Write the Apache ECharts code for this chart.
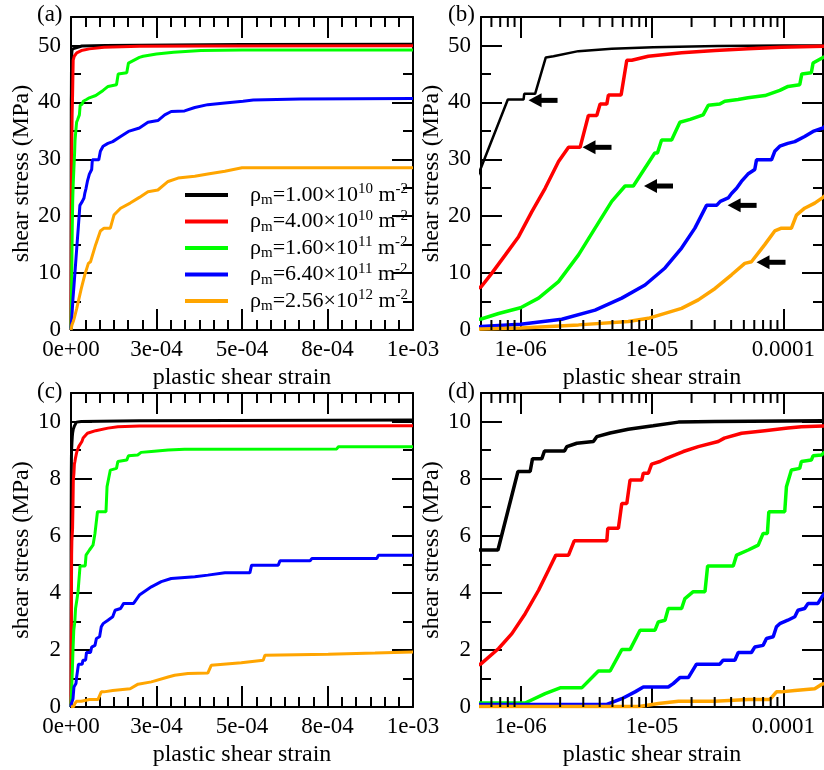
<!DOCTYPE html>
<html>
<head>
<meta charset="utf-8">
<script src="https://cdn.jsdelivr.net/npm/echarts@6/dist/echarts.min.js"></script>
<style>
  html, body { margin: 0; background: #fff; }
  #chart { width: 824px; height: 770px; }
</style>
</head>
<body>
<div id="chart"></div>
<script>
// density labels for the legend
const densityMant = ['1.00', '4.00', '1.60', '6.40', '2.56'];
const densityExp = ['10', '10', '11', '11', '12'];
const seriesNames = densityMant.map((m, i) => 'ρm=' + m + '×10^' + densityExp[i] + ' m^-2');
const seriesColors = ['#000000', '#ff0000', '#00ff00', '#0000ff', '#ffa500'];

// tick labels
const linXLabels = ['0e+00', '3e-04', '5e-04', '8e-04', '1e-03'];
const logXLabels = ['1e-06', '1e-05', '0.0001'];
const logMinorTicks = [6e-7, 7e-7, 8e-7, 9e-7, 2e-6, 3e-6, 4e-6, 5e-6, 6e-6, 7e-6, 8e-6, 9e-6,
  2e-5, 3e-5, 4e-5, 5e-5, 6e-5, 7e-5, 8e-5, 9e-5];

// [plastic shear strain, shear stress MPa] — 50 MPa loading, panels (a)/(b)
const hiBlack = [[1e-8,0],[2e-7,12],[4e-7,23],[5.02e-7,28.6],[8.0e-7,40.5],[1.054e-6,40.5],[1.066e-6,41.5],[1.29e-6,41.5],[1.556e-6,47.9],[1.78e-6,48.1],[2.75e-6,49.0],[4.94e-6,49.4],[1.02e-5,49.7],[3.16e-5,49.9],[1e-4,50.0],[2e-4,50.05],[5e-4,50.15],[1e-3,50.2]];
const hiRed = [[1e-8,0],[2.5e-7,5.0],[5.02e-7,7.6],[6.05e-7,10.0],[7.66e-7,13.2],[9.66e-7,16.4],[1.219e-6,20.8],[1.538e-6,24.9],[1.945e-6,29.6],[2.317e-6,32.1],[2.838e-6,32.1],[3.281e-6,37.7],[3.80e-6,37.7],[4.03e-6,39.7],[4.53e-6,39.7],[4.66e-6,41.3],[5.82e-6,41.3],[6.43e-6,47.4],[7.01e-6,47.4],[9.38e-6,48.1],[1.68e-5,48.7],[3.02e-5,49.1],[5.37e-5,49.4],[9.66e-5,49.7],[2e-4,49.85],[4e-4,49.9],[1e-3,49.95]];
const hiGreen = [[1e-8,0],[2.5e-7,1.2],[5.02e-7,1.94],[6.81e-7,2.9],[1e-6,3.9],[1.371e-6,5.6],[1.945e-6,8.5],[2.76e-6,13.2],[3.69e-6,17.9],[4.94e-6,22.6],[6.24e-6,25.3],[7.21e-6,25.3],[1.05e-5,31.1],[1.1e-5,31.1],[1.183e-5,33.4],[1.41e-5,33.4],[1.63e-5,36.5],[1.95e-5,37.0],[2.45e-5,37.8],[2.68e-5,39.5],[3.28e-5,39.7],[3.58e-5,40.2],[4.52e-5,40.5],[5.37e-5,40.8],[7.24e-5,41.2],[9.38e-5,42.1],[1.084e-4,42.8],[1.33e-4,43.1],[1.38e-4,45.0],[1.63e-4,45.2],[1.68e-4,46.9],[2e-4,47.9],[2.11e-4,48.1],[2.5e-4,48.5],[3e-4,48.8],[3.8e-4,49.1],[5e-4,49.2],[1e-3,49.2]];
const hiBlue = [[1e-8,0],[2.5e-7,0.35],[5.02e-7,0.6],[1e-6,1.0],[2.06e-6,1.9],[3.69e-6,3.5],[5.89e-6,5.6],[8.85e-6,7.9],[1.256e-5,10.9],[1.679e-5,14.4],[2.12e-5,17.9],[2.6e-5,21.9],[3.1e-5,21.9],[3.31e-5,22.6],[3.8e-5,23.2],[4.03e-5,24.0],[4.4e-5,24.9],[4.79e-5,26.1],[5.37e-5,27.4],[6.05e-5,28.2],[6.24e-5,29.9],[8.11e-5,29.9],[8.59e-5,31.4],[9.38e-5,32.3],[1.08e-4,32.8],[1.22e-4,33.1],[1.45e-4,34.0],[1.68e-4,34.9],[2e-4,35.5],[2.25e-4,36.5],[2.54e-4,36.8],[2.74e-4,37.8],[2.93e-4,38.4],[3.32e-4,38.5],[3.62e-4,39.1],[4.0e-4,39.6],[4.5e-4,39.9],[5.03e-4,40.2],[5.33e-4,40.4],[6.7e-4,40.6],[1e-3,40.7]];
const hiOrange = [[1e-8,0],[5.02e-7,0.18],[1e-6,0.35],[2.76e-6,0.9],[6.6e-6,1.5],[9.38e-6,2.05],[1.68e-5,3.8],[2.25e-5,5.3],[3.02e-5,7.3],[4.03e-5,9.7],[5.08e-5,11.7],[5.71e-5,12.0],[7.21e-5,15.0],[8.59e-5,17.4],[9.66e-5,17.9],[1.15e-4,17.9],[1.256e-4,20.2],[1.45e-4,21.4],[1.73e-4,22.3],[2e-4,23.3],[2.25e-4,24.3],[2.54e-4,24.6],[2.84e-4,26.1],[3.13e-4,26.7],[3.62e-4,27.0],[4.0e-4,27.4],[4.5e-4,27.9],[5e-4,28.5],[1e-3,28.5]];

// 10 MPa loading, panels (c)/(d)
const loBlack = [[1e-8,0],[3e-7,5.5],[6.73e-7,5.5],[9.55e-7,8.25],[1.183e-6,8.25],[1.233e-6,8.7],[1.452e-6,8.7],[1.52e-6,8.97],[2.16e-6,8.97],[2.25e-6,9.12],[2.68e-6,9.24],[3.58e-6,9.3],[3.8e-6,9.47],[4.8e-6,9.6],[6.6e-6,9.73],[1.02e-5,9.85],[1.59e-5,9.98],[3.0e-5,10.0],[2e-4,10.03],[1e-3,10.05]];
const loRed = [[1e-8,0],[2.5e-7,0.9],[5.02e-7,1.52],[6.81e-7,2.05],[8.59e-7,2.57],[1.084e-6,3.27],[1.371e-6,4.09],[1.633e-6,4.8],[1.854e-6,5.32],[2.317e-6,5.32],[2.56e-6,5.82],[4.53e-6,5.82],[4.61e-6,6.26],[5.55e-6,6.26],[5.89e-6,7.13],[6.43e-6,7.13],[6.81e-6,7.95],[8.36e-6,7.95],[8.59e-6,8.19],[9.38e-6,8.19],[9.93e-6,8.51],[1.15e-5,8.6],[1.29e-5,8.71],[1.5e-5,8.83],[1.73e-5,8.95],[2.25e-5,9.12],[3.19e-5,9.3],[3.55e-5,9.42],[4.8e-5,9.59],[7.21e-5,9.68],[1.08e-4,9.77],[1.37e-4,9.82],[2e-4,9.84],[1e-3,9.85]];
const loGreen = [[1e-8,0],[3e-7,0.14],[1.084e-6,0.14],[1.538e-6,0.47],[2.0e-6,0.67],[2.92e-6,0.67],[3.91e-6,1.26],[4.8e-6,1.26],[5.89e-6,2.01],[6.81e-6,2.01],[8.11e-6,2.69],[1.054e-5,2.69],[1.117e-5,2.98],[1.256e-5,3.04],[1.33e-5,3.45],[1.68e-5,3.45],[1.78e-5,3.80],[2.06e-5,4.04],[2.53e-5,4.04],[2.65e-5,4.94],[4.15e-5,4.94],[4.4e-5,5.32],[5.4e-5,5.5],[6.43e-5,5.67],[7.01e-5,6.08],[7.55e-5,6.08],[7.74e-5,6.84],[1.023e-4,6.84],[1.054e-4,7.72],[1.15e-4,8.30],[1.33e-4,8.36],[1.37e-4,8.6],[1.63e-4,8.65],[1.68e-4,8.8],[1.95e-4,8.83],[2.05e-4,8.92],[2.35e-4,8.95],[2.84e-4,9.0],[3.32e-4,9.03],[7.77e-4,9.04],[7.82e-4,9.12],[1e-3,9.12]];
const loBlue = [[1e-8,0],[3e-7,0.09],[4.53e-6,0.09],[5.89e-6,0.29],[7.43e-6,0.53],[8.59e-6,0.7],[1.33e-5,0.7],[1.45e-5,0.82],[1.63e-5,1.03],[1.89e-5,1.03],[2.18e-5,1.50],[3.28e-5,1.50],[3.48e-5,1.64],[4.27e-5,1.64],[4.53e-5,1.91],[5.71e-5,1.91],[6.05e-5,2.1],[7.01e-5,2.16],[7.43e-5,2.4],[8.36e-5,2.46],[8.85e-5,2.81],[9.38e-5,2.92],[1.08e-4,3.04],[1.22e-4,3.16],[1.29e-4,3.39],[1.45e-4,3.45],[1.54e-4,3.63],[1.83e-4,3.63],[2e-4,3.92],[2.35e-4,4.21],[2.64e-4,4.39],[2.93e-4,4.5],[3.62e-4,4.56],[4.0e-4,4.62],[4.5e-4,4.7],[5.23e-4,4.70],[5.28e-4,4.97],[6.06e-4,4.97],[6.11e-4,5.12],[6.99e-4,5.12],[7.04e-4,5.2],[8.94e-4,5.2],[8.99e-4,5.32],[1e-3,5.32]];
const loOrange = [[1e-8,0],[5.02e-7,0.02],[8e-6,0.02],[1.12e-5,0.12],[1.59e-5,0.2],[3.0e-5,0.2],[5.4e-5,0.26],[7.87e-5,0.26],[8.85e-5,0.53],[9.6e-5,0.53],[1.22e-4,0.58],[1.73e-4,0.64],[1.96e-4,0.8],[2.35e-4,0.88],[2.84e-4,1.05],[3.03e-4,1.11],[3.42e-4,1.17],[4.0e-4,1.19],[4.1e-4,1.46],[4.98e-4,1.55],[5.62e-4,1.64],[5.67e-4,1.81],[7.52e-4,1.85],[8.89e-4,1.89],[8.94e-4,1.93],[1e-3,1.93]];

// arrow tips in panel (b), [strain, stress]
const arrowTips = [[1.15e-6, 40.35], [2.96e-6, 32.1], [8.69e-6, 25.3], [3.76e-5, 21.9], [6.24e-5, 11.9]];

const hiSet = [hiBlack, hiRed, hiGreen, hiBlue, hiOrange];
const loSet = [loBlack, loRed, loGreen, loBlue, loOrange];

const FONT = 'Liberation Serif';
const chart = echarts.init(document.getElementById('chart'));

const grids = [
  { left: 71, top: 17, width: 342, height: 313 },
  { left: 481, top: 17, width: 342, height: 313 },
  { left: 71, top: 393, width: 342, height: 314 },
  { left: 481, top: 393, width: 342, height: 314 }
].map(g => Object.assign(g, { outerBoundsMode: 'none', containLabel: false }));

const axisLine = { onZero: false, lineStyle: { color: '#000', width: 2 } };
const tick = { inside: true, length: 21, lineStyle: { color: '#000', width: 2 } };
const minor = (n) => ({ show: true, splitNumber: n, length: 10, lineStyle: { color: '#000', width: 2 } });

function xLin(gi, top) {
  return {
    type: 'value', gridIndex: gi, position: top ? 'top' : 'bottom',
    min: 0, max: 0.001, interval: 0.00025,
    axisLine, axisTick: tick, minorTick: minor(6), splitLine: { show: false },
    axisLabel: {
      show: !top, margin: 8, fontSize: 23, fontFamily: FONT, color: '#000',
      formatter: v => linXLabels[Math.round(v / 0.00025)] || ''
    },
    name: top ? '' : 'plastic shear strain', nameLocation: 'middle', nameGap: 36,
    nameTextStyle: { fontSize: 24, fontFamily: FONT, color: '#000' }
  };
}

function xLog(gi, top) {
  return {
    type: 'log', logBase: 10, gridIndex: gi, position: top ? 'top' : 'bottom',
    min: 5e-7, max: 2e-4,
    axisLine, axisTick: tick, minorTick: { show: false }, splitLine: { show: false },
    axisLabel: {
      show: !top, margin: 8, fontSize: 23, fontFamily: FONT, color: '#000',
      formatter: v => {
        const e = Math.log10(v), k = Math.round(e);
        return Math.abs(e - k) < 1e-6 ? (logXLabels[k + 6] || '') : '';
      }
    },
    name: top ? '' : 'plastic shear strain', nameLocation: 'middle', nameGap: 36,
    nameTextStyle: { fontSize: 24, fontFamily: FONT, color: '#000' }
  };
}

function yAx(gi, max, interval, right) {
  return {
    type: 'value', gridIndex: gi, position: right ? 'right' : 'left',
    min: 0, max: max, interval: interval,
    axisLine, axisTick: tick, minorTick: minor(2), splitLine: { show: false },
    axisLabel: {
      show: !right, margin: 10, fontSize: 23, fontFamily: FONT, color: '#000',
      formatter: v => (Math.abs(v % interval) < 1e-9 ? String(v) : '')
    },
    name: right ? '' : 'shear stress (MPa)', nameLocation: 'middle', nameGap: 34,
    nameTextStyle: { fontSize: 24, fontFamily: FONT, color: '#000' }
  };
}

const xAxes = [xLin(0, false), xLin(0, true), xLog(1, false), xLog(1, true),
  xLin(2, false), xLin(2, true), xLog(3, false), xLog(3, true)];
const yAxes = [yAx(0, 55, 10, false), yAx(0, 55, 10, true), yAx(1, 55, 10, false), yAx(1, 55, 10, true),
  yAx(2, 11, 2, false), yAx(2, 11, 2, true), yAx(3, 11, 2, false), yAx(3, 11, 2, true)];

const series = [];
function addPanel(p, set, widths) {
  set.forEach((data, i) => {
    series.push({
      type: 'line', name: seriesNames[i], data: data,
      xAxisIndex: 2 * p, yAxisIndex: 2 * p,
      showSymbol: false, symbol: 'none', clip: true, animation: false,
      itemStyle: { color: seriesColors[i] },
      lineStyle: { color: seriesColors[i], width: widths[i] },
      z: 2 + i
    });
  });
}
addPanel(0, hiSet, [3, 3, 3, 3, 3]);
addPanel(1, hiSet, [2.5, 3.5, 3.5, 3.5, 3.5]);
addPanel(2, loSet, [3, 3, 3, 3, 3]);
addPanel(3, loSet, [3.5, 3.5, 3.5, 3.5, 3.5]);

// log minor ticks on bottom and top edges of (b) and (d)
[1, 3].forEach(p => {
  series.push({
    type: 'custom', xAxisIndex: 2 * p, yAxisIndex: 2 * p, clip: false, silent: true, z: 10,
    data: logMinorTicks.map(v => [v, 1]),
    renderItem: (params, api) => {
      const x = api.coord([api.value(0), api.value(1)])[0];
      const cs = params.coordSys;
      const st = { stroke: '#000', lineWidth: 2 };
      return {
        type: 'group', children: [
          { type: 'line', shape: { x1: x, y1: cs.y + cs.height, x2: x, y2: cs.y + cs.height - 10 }, style: st },
          { type: 'line', shape: { x1: x, y1: cs.y, x2: x, y2: cs.y + 10 }, style: st }
        ]
      };
    }
  });
});

// arrows in (b)
series.push({
  type: 'custom', xAxisIndex: 2, yAxisIndex: 2, clip: false, silent: true, z: 20,
  data: arrowTips,
  renderItem: (params, api) => {
    const p = api.coord([api.value(0), api.value(1)]);
    return {
      type: 'group', children: [
        { type: 'polygon', shape: { points: [[p[0], p[1]], [p[0] + 13, p[1] - 7], [p[0] + 13, p[1] + 7]] }, style: { fill: '#000' } },
        { type: 'rect', shape: { x: p[0] + 12, y: p[1] - 2.5, width: 17, height: 5 }, style: { fill: '#000' } }
      ]
    };
  }
});

const panelLabels = ['(a)', '(b)', '(c)', '(d)'];
const labelPos = [[37, 3], [448, 3], [37, 380], [448, 380]];

const option = {
  backgroundColor: '#fff',
  animation: false,
  textStyle: { fontFamily: FONT },
  grid: grids,
  xAxis: xAxes,
  yAxis: yAxes,
  legend: {
    data: seriesNames, orient: 'vertical', left: 185, top: 182, padding: 0,
    itemGap: 0.5, itemWidth: 43, itemHeight: 4, icon: 'rect', selectedMode: false,
    formatter: name => {
      const i = seriesNames.indexOf(name);
      return '{sp| }{r|ρ}{sub|m}{r|=' + densityMant[i] + '×10}{sup|' + densityExp[i] + '}{r| m}{sup|-2}';
    },
    textStyle: {
      rich: {
        sp: { width: 17, fontSize: 22, lineHeight: 26 },
        r: { fontFamily: FONT, fontSize: 22, lineHeight: 26, color: '#000' },
        sub: { fontFamily: FONT, fontSize: 15, lineHeight: 6, verticalAlign: 'bottom', color: '#000' },
        sup: { fontFamily: FONT, fontSize: 15, lineHeight: 6, verticalAlign: 'top', color: '#000' }
      }
    }
  },
  graphic: panelLabels.map((t, i) => ({
    type: 'text', left: labelPos[i][0], top: labelPos[i][1],
    style: { text: t, font: '23px "Liberation Serif"', fill: '#000' }
  })),
  series: series
};

chart.setOption(option);
</script>
</body>
</html>
